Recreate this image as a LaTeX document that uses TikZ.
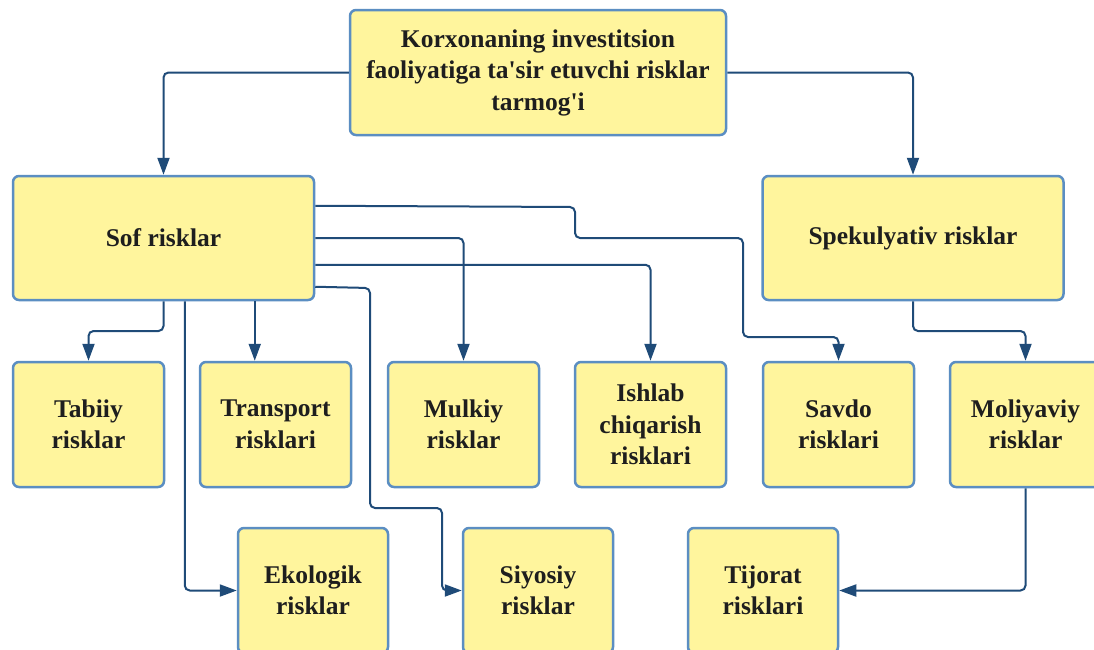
\documentclass[tikz,border=0pt]{standalone}
\usepackage{fontspec}
\setmainfont{Liberation Serif}[Ligatures=TeXOff]
\usetikzlibrary{arrows.meta,calc}
\definecolor{boxfill}{HTML}{FFF59D}
\definecolor{boxline}{HTML}{5B8EC2}
\definecolor{conncol}{HTML}{1F4B78}
\definecolor{txt}{HTML}{1E1E1E}
\begin{document}
\begin{tikzpicture}[x=1pt,y=-1pt,
 box/.style={draw=boxline,line width=2.5pt,fill=boxfill,rounded corners=6pt,inner sep=0pt,align=center,text=txt,font=\fontsize{25.5}{31.5}\selectfont\bfseries},
 small/.style={box,minimum width=151pt,minimum height=125pt},
 conn/.style={draw=conncol,line width=2pt,rounded corners=5pt,-{Triangle[length=17pt,width=12pt]}}]
\useasboundingbox (0,0) rectangle (1094,649);
\clip (0,0) rectangle (1094,649);
\node[box,minimum width=376pt,minimum height=125pt] (top) at (538,72.5) {Korxonaning investitsion\\faoliyatiga ta'sir etuvchi risklar\\tarmog'i};
\node[box,minimum width=301pt,minimum height=124pt] (sof) at (163.5,238) {Sof risklar};
\node[box,minimum width=301pt,minimum height=124pt] (spek) at (913,238) {Spekulyativ risklar};
\node[small] (tabiiy) at (88.5,424.5) {Tabiiy\\risklar};
\node[small] (transport) at (275.5,424.5) {Transport\\risklari};
\node[small] (mulkiy) at (463.5,424.5) {Mulkiy\\risklar};
\node[small] (ishlab) at (650.5,424.5) {Ishlab\\chiqarish\\risklari};
\node[small] (savdo) at (838.5,424.5) {Savdo\\risklari};
\node[small] (moliya) at (1025.5,424.5) {Moliyaviy\\risklar};
\node[small,minimum width=150pt] (ekologik) at (313,590.5) {Ekologik\\risklar};
\node[small,minimum width=150pt] (siyosiy) at (538,590.5) {Siyosiy\\risklar};
\node[small,minimum width=150pt] (tijorat) at (763,590.5) {Tijorat\\risklari};
% top connections
\draw[conn] (top.west) -| (sof.north);
\draw[conn] (top.east) -| (spek.north);
% from Sof right side
\coordinate (s1) at ($(sof.north east)+(0,31)$);
\coordinate (s3) at ($(sof.north east)+(0,90)$);
\coordinate (s4) at ($(sof.north east)+(0,112)$);
\draw[conn] (s1) -- (575,207) -- (575,238) -- (743,238) -- (743,337) -| (savdo.north);
\draw[conn] (sof.east) -| (mulkiy.north);
\draw[conn] (s3) -| (ishlab.north);
\draw[conn] (s4) -- (370,288) -- (370,508) -- (442,508) |- (siyosiy.west);
% from Sof bottom
\draw[conn] (sof.south) -- (163.5,331) -| (tabiiy.north);
\coordinate (b2) at ($(sof.south west)+(173,0)$);
\draw[conn] (b2) |- (ekologik.west);
\coordinate (b3) at ($(sof.south west)+(243,0)$);
\draw[conn] (b3) -- (b3 |- transport.north);
% from Spekulyativ
\draw[conn] (spek.south) -- (913,331) -| (moliya.north);
\draw[conn] (moliya.south) |- (tijorat.east);
\end{tikzpicture}
\end{document}
